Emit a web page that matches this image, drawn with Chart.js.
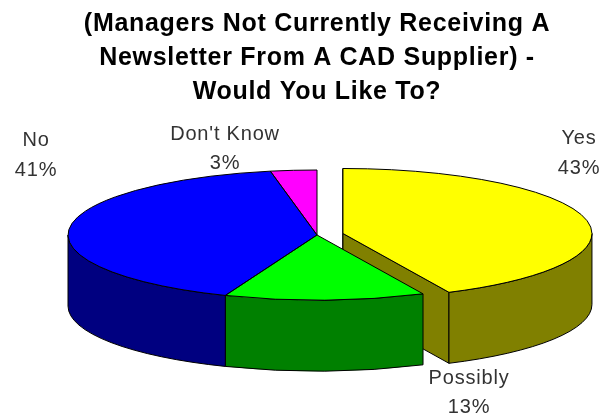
<!DOCTYPE html>
<html>
<head>
<meta charset="utf-8">
<style>
  html, body { margin: 0; padding: 0; background: #fff; }
  canvas { display: block; }
</style>
<script src="https://cdn.jsdelivr.net/npm/chart.js@4/dist/chart.umd.min.js"></script>
</head>
<body>
<canvas id="myChart" width="603" height="417"></canvas>
<script>
// Survey answers, in percent
const categories = ['Yes', 'Possibly', 'No', "Don't Know"];
const values = [43, 13, 41, 3];
const titleLines = [
    '(Managers Not Currently Receiving A',
    'Newsletter From A CAD Supplier) -',
    'Would You Like To?'
];

const topColors = ['#ffff00', '#00ff00', '#0000ff', '#ff00ff'];
const wallColors = ['#808000', '#008000', '#000080', '#800080'];
const explode = [26.6, 0, 0, 0]; // how far each slice is pulled out
const labelAnchors = [[579, 138], [469, 378], [36, 140], [225, 134]];
const labelGap = [30, 29, 30, 29];

const pieRadius = 249;
const tilt = 65 / 249;  // vertical squash of the pie
const depth = 71;       // wall height
const centerY = 235;

// y position of a point on the squashed pie
function squashY(y) {
    return centerY + (y - centerY) * tilt;
}

function outerWall(ctx, arc, from, to) {
    const y = squashY(arc.y);
    const b = arc.outerRadius * tilt;
    ctx.beginPath();
    ctx.ellipse(arc.x, y, arc.outerRadius, b, 0, from, to);
    ctx.ellipse(arc.x, y + depth, arc.outerRadius, b, 0, to, from, true);
    ctx.closePath();
    ctx.fill();
    ctx.stroke();
}

function cutFace(ctx, arc, angle) {
    const y = squashY(arc.y);
    const ex = arc.x + Math.cos(angle) * arc.outerRadius;
    const ey = y + Math.sin(angle) * arc.outerRadius * tilt;
    ctx.beginPath();
    ctx.moveTo(arc.x, y);
    ctx.lineTo(ex, ey);
    ctx.lineTo(ex, ey + depth);
    ctx.lineTo(arc.x, y + depth);
    ctx.closePath();
    ctx.fill();
    ctx.stroke();
}

const pie3d = {
    id: 'pie3d',
    // pull slices out once the library has laid them out
    afterDatasetsUpdate(chart) {
        chart.getDatasetMeta(0).data.forEach((arc, i) => {
            const mid = (arc.startAngle + arc.endAngle) / 2;
            arc.x += Math.cos(mid) * explode[i];
            arc.y += Math.sin(mid) * explode[i];
        });
    },
    // the title is set wide, so spacing goes on before it is painted
    beforeDraw(chart) {
        chart.ctx.letterSpacing = '0.7px';
    },
    beforeDatasetDraw(chart) {
        const ctx = chart.ctx;
        const arcs = chart.getDatasetMeta(0).data;
        ctx.save();
        ctx.strokeStyle = '#000';
        ctx.lineWidth = 1;
        ctx.lineJoin = 'round';
        arcs.forEach((arc, i) => {
            ctx.fillStyle = wallColors[i];
            if (explode[i] > 0) {
                cutFace(ctx, arc, arc.startAngle);
                cutFace(ctx, arc, arc.endAngle);
            }
            // only the front half of the rim can be seen
            const from = Math.max(arc.startAngle, 0);
            const to = Math.min(arc.endAngle, Math.PI);
            if (to > from) outerWall(ctx, arc, from, to);
        });
        ctx.restore();

        const cx = arcs[0].x;
        ctx.save();
        ctx.translate(cx, centerY);
        ctx.scale(1, tilt);
        ctx.translate(-cx, -centerY);
    },
    afterDatasetDraw(chart) {
        const ctx = chart.ctx;
        ctx.restore();
        // outlines are stroked unsquashed so they stay 1px all round
        ctx.save();
        ctx.strokeStyle = '#000';
        ctx.lineWidth = 1;
        ctx.lineJoin = 'round';
        chart.getDatasetMeta(0).data.forEach(arc => {
            const y = squashY(arc.y);
            ctx.beginPath();
            ctx.moveTo(arc.x, y);
            ctx.ellipse(arc.x, y, arc.outerRadius, arc.outerRadius * tilt, 0, arc.startAngle, arc.endAngle);
            ctx.closePath();
            ctx.stroke();
        });
        ctx.restore();
    },
    afterDraw(chart) {
        const ctx = chart.ctx;
        ctx.save();
        ctx.font = '20px "Liberation Sans"';
        ctx.letterSpacing = '0.8px';
        ctx.fillStyle = '#333';
        ctx.textAlign = 'center';
        ctx.textBaseline = 'middle';
        categories.forEach((name, i) => {
            const [x, y] = labelAnchors[i];
            ctx.fillText(name, x, y);
            ctx.fillText(values[i] + '%', x, y + labelGap[i]);
        });
        ctx.restore();
    }
};

const myChart = new Chart(document.getElementById('myChart').getContext('2d'), {
    type: 'pie',
    data: {
        labels: categories,
        datasets: [{
            data: values,
            backgroundColor: topColors,
            borderWidth: 0,
            clip: false
        }]
    },
    options: {
        responsive: false,
        animation: false,
        events: [],
        radius: pieRadius,
        layout: { padding: { left: 31, bottom: 56 } },
        plugins: {
            legend: { display: false },
            tooltip: { enabled: false },
            title: {
                display: true,
                text: titleLines,
                color: '#000',
                font: { family: '"Liberation Sans"', size: 25, weight: 'bold', lineHeight: 34 / 25 },
                padding: { top: 7, bottom: 0 }
            }
        }
    },
    plugins: [pie3d]
});
</script>
</body>
</html>
